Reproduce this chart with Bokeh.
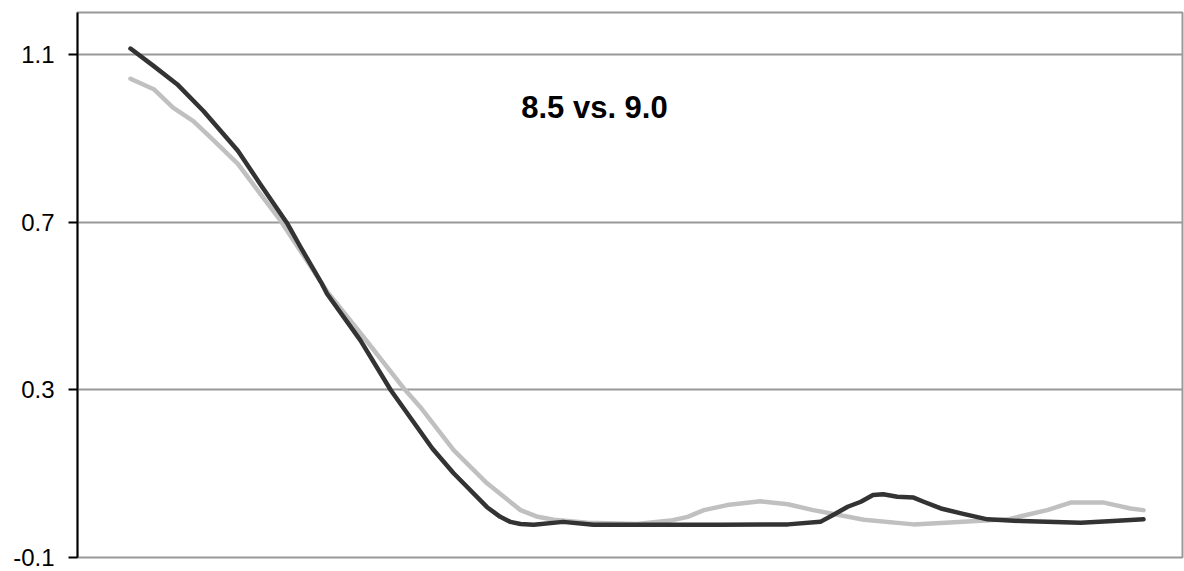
from bokeh.plotting import figure
from bokeh.models import Range1d, FixedTicker, Label
from bokeh.embed import file_html
from bokeh.resources import INLINE

# Series (x = position along the curve 0..100)
dark_x = [0, 2.3, 4.6, 7.2, 10.6, 12.8, 15.5, 16.8, 18.8, 19.4, 22.7, 25.7, 29.8, 31.9, 35.2, 36.5, 37.5,
          38.5, 39.8, 42.7, 45.7, 51.6, 58.2, 64.9, 68.1, 69.4, 70.8, 72.1, 73.3, 74.3, 75.7, 77.3, 78.3,
          80.0, 82.2, 84.6, 87.9, 93.8, 97.0, 100]
dark_y = [1.114, 1.072, 1.029, 0.965, 0.870, 0.791, 0.696, 0.640, 0.557, 0.529, 0.418, 0.299, 0.160, 0.101, 0.020, -0.003, -0.015,
          -0.020, -0.022, -0.015, -0.022, -0.022, -0.022, -0.021, -0.015, 0.002, 0.021, 0.033, 0.049, 0.051, 0.045, 0.043, 0.033,
          0.017, 0.004, -0.009, -0.013, -0.017, -0.013, -0.009]

light_x = [0, 2.3, 4.2, 6.2, 7.9, 10.6, 12.8, 14.8, 19.4, 23.2, 27.1, 28.6, 31.9, 35.2, 38.5, 40.2, 41.8,
           45.1, 50.0, 53.3, 55.0, 56.6, 58.9, 62.2, 64.9, 67.4, 72.4, 77.3, 82.2, 86.6, 90.5, 92.8, 96.1, 98.7, 100]
light_y = [1.042, 1.017, 0.973, 0.941, 0.902, 0.839, 0.768, 0.704, 0.535, 0.420, 0.300, 0.259, 0.156, 0.077, 0.013, -0.003, -0.010,
           -0.017, -0.020, -0.012, -0.003, 0.013, 0.025, 0.034, 0.027, 0.013, -0.010, -0.021, -0.015, -0.009, 0.013, 0.031, 0.031, 0.017, 0.013]

y_ticks = [-0.1, 0.3, 0.7, 1.1]
y_tick_labels = ["-0.1", "0.3", "0.7", "1.1"]
title_text = "8.5 vs. 9.0"

p = figure(width=1184, height=571, output_backend="svg", toolbar_location=None,
           x_range=Range1d(-5.23, 103.85), y_range=Range1d(-0.1, 1.2),
           x_axis_location=None)
p.min_border_left = 77
p.min_border_right = 2
p.min_border_top = 12
p.min_border_bottom = 14
p.background_fill_color = "white"
p.border_fill_color = "white"
p.outline_line_color = "#999999"
p.outline_line_width = 2

p.xgrid.visible = False
p.ygrid.ticker = FixedTicker(ticks=y_ticks)
p.ygrid.grid_line_color = "#999999"
p.ygrid.grid_line_width = 2

ax = p.yaxis[0]
ax.ticker = FixedTicker(ticks=y_ticks)
ax.major_label_overrides = {t: s for t, s in zip(y_ticks, y_tick_labels)}
ax.axis_line_color = "black"
ax.axis_line_width = 2
ax.major_tick_line_color = "black"
ax.major_tick_line_width = 2
ax.major_tick_out = 9
ax.major_tick_in = 0
ax.minor_tick_line_color = None
ax.major_label_standoff = 14
ax.major_label_text_font = "Liberation Sans"
ax.major_label_text_font_size = "24px"
ax.major_label_text_color = "black"

p.line(light_x, light_y, line_color="#c0c0c0", line_width=4.5, line_join="round", line_cap="round")
p.line(dark_x, dark_y, line_color="#333333", line_width=4.5, line_join="round", line_cap="round")

p.add_layout(Label(x=45.8, y=0.973, text=title_text, text_align="center", text_baseline="middle",
                   text_font="Liberation Sans", text_font_style="bold", text_font_size="31px",
                   text_color="black"))

open("out.html", "w").write(file_html(p, INLINE))
